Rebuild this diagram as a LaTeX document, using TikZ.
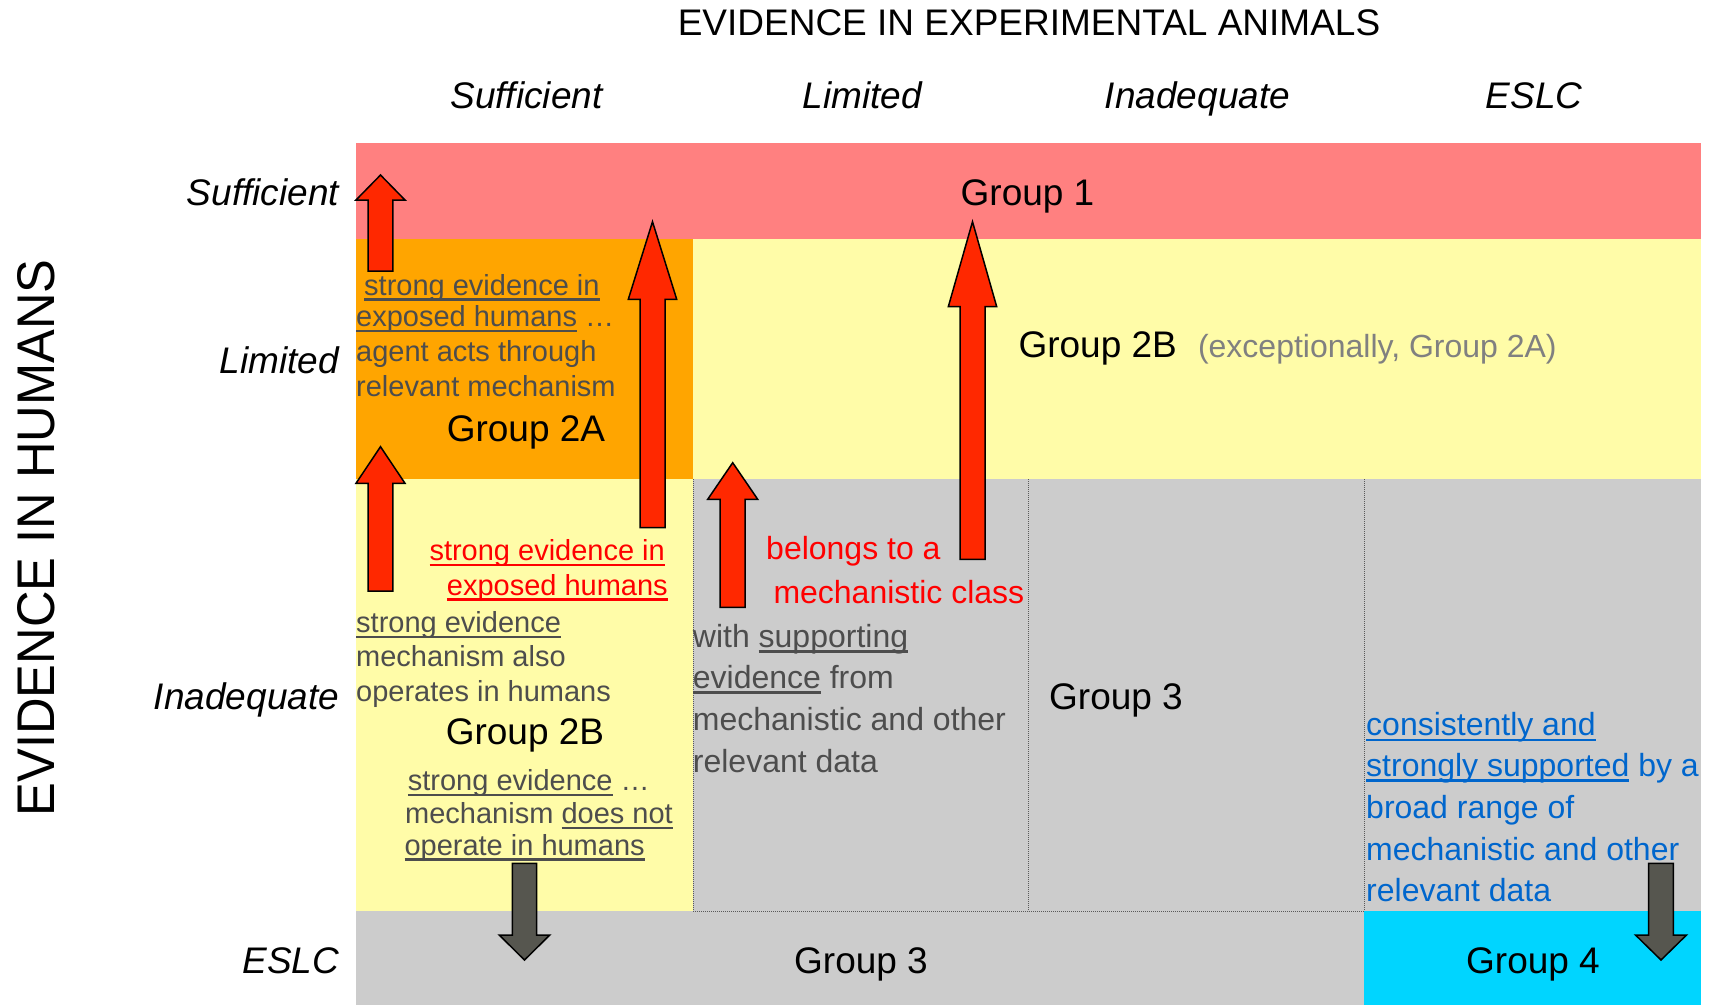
\documentclass[tikz,border=0pt]{standalone}
\usepackage{fontspec}
\setmainfont{Liberation Sans}
\definecolor{salmonc}{HTML}{FF8080}
\definecolor{orangec}{HTML}{FFA500}
\definecolor{yellowc}{HTML}{FFFCA8}
\definecolor{grayc}{HTML}{CCCCCC}
\definecolor{cyanc}{HTML}{00D5FF}
\definecolor{bodygray}{HTML}{4D4D4D}
\definecolor{lightgray}{HTML}{808080}
\definecolor{redtext}{HTML}{FF0000}
\definecolor{bluetext}{HTML}{0066CC}
\definecolor{arrred}{HTML}{FF2800}
\definecolor{arrgray}{HTML}{56564F}
\newcommand{\fs}[2]{\fontsize{#1}{#2}\selectfont}
\newcommand{\ulin}[1]{\setbox0=\hbox{#1}\rlap{\rule[-5.6pt]{\wd0}{2.4pt}}\box0\relax}
\newcommand{\barrow}[7]{%
  \draw[#1] (#2,#3) -- ({#2+#6},#4) -- ({#2+#7},#4) -- ({#2+#7},#5)
    -- ({#2-#7},#5) -- ({#2-#7},#4) -- ({#2-#6},#4) -- cycle;}
\begin{document}
\begin{tikzpicture}[x=1pt,y=-1pt,
  lbl/.style={inner sep=0pt, anchor=base west},
  body/.style={lbl, font=\fs{29}{34}, text=bodygray},
  bodybig/.style={lbl, font=\fs{32}{40}, text=bodygray},
  redsmall/.style={lbl, font=\fs{29}{34}, text=redtext},
  redbig/.style={lbl, font=\fs{32}{40}, text=redtext},
  blue/.style={lbl, font=\fs{32}{40}, text=bluetext},
  grp/.style={inner sep=0pt, anchor=base, font=\fs{37}{44}},
  colhead/.style={inner sep=0pt, anchor=base, font=\fs{37}{44}\itshape},
  rowhead/.style={inner sep=0pt, anchor=base east, font=\fs{37}{44}\itshape},
  redarrow/.style={fill=arrred, draw=black, line width=1.5pt, line join=miter},
  grayarrow/.style={fill=arrgray, draw=black, line width=1.5pt, line join=miter},
  dotline/.style={draw=black!65, line width=0.8pt, dash pattern=on 0.8pt off 1.2pt}]
\useasboundingbox (0,0) rectangle (1711,1005);
% cells
\fill[salmonc] (356,143) rectangle (1701,239);
\fill[orangec] (356,239) rectangle (693,479);
\fill[yellowc] (693,239) rectangle (1701,479);
\fill[yellowc] (356,479) rectangle (693,911);
\fill[grayc] (693,479) rectangle (1701,911);
\fill[grayc] (356,911) rectangle (1364,1005);
\fill[cyanc] (1364,911) rectangle (1701,1005);
% dotted borders
\draw[dotline] (693,479) -- (693,911) -- (1364,911) -- (1364,479);
\draw[dotline] (1028,479) -- (1028,911);
% titles
\node[inner sep=0pt, anchor=base, font=\fs{37}{44}] (title) at (1029,35) {EVIDENCE IN EXPERIMENTAL ANIMALS};
\node[colhead] (c1) at (526.5,108) {Sufficient};
\node[colhead] (c2) at (862.5,108) {Limited};
\node[colhead] (c3) at (1197.5,108) {Inadequate};
\node[colhead] (c4) at (1534,108) {ESLC};
\node[inner sep=0pt, anchor=base, rotate=90, font=\fs{53}{60}] (vt) at (54.3,538) {\scalebox{0.955}[1]{EVIDENCE IN HUMANS}};
\node[rowhead] (r1) at (339.3,205) {Sufficient};
\node[rowhead] (r2) at (339.3,373) {Limited};
\node[rowhead] (r3) at (339.3,709) {Inadequate};
\node[rowhead] (r4) at (339.3,973) {ESLC};
% group labels
\node[grp] (g1) at (1027.5,205) {Group 1};
\node[grp, anchor=base west] (g2bt) at (1018.3,357) {Group 2B};
\node[lbl, font=\fs{32}{40}, text=lightgray] (exc) at (1197.8,357) {(exceptionally, Group 2A)};
\node[grp] (g2a) at (526,441.7) {Group 2A};
\node[grp] (g2b) at (525,744) {Group 2B};
\node[grp] (g3a) at (1116,709) {Group 3};
\node[grp] (g3b) at (861,973) {Group 3};
\node[grp] (g4) at (1533,973) {Group 4};
% orange cell text
\node[body] (o1) at (364,295) {\ulin{strong evidence in}};
\node[body] (o2) at (356,326.5) {\ulin{exposed humans} …};
\node[body] (o3) at (356,361.7) {agent acts through};
\node[body] (o4) at (356,396.7) {relevant mechanism};
% red text col 1
\node[redsmall] (rs1) at (429.3,560.7) {\ulin{strong evidence in}};
\node[redsmall] (rs2) at (446.7,595) {\ulin{exposed humans}};
% yellow col 1 text
\node[body] (y1) at (356,632.7) {\ulin{strong evidence}};
\node[body] (y2) at (356,666.7) {mechanism also};
\node[body] (y3) at (356,701) {operates in humans};
\node[body] (y4) at (407.7,790.7) {\ulin{strong evidence} …};
\node[body] (y5) at (405,823.3) {mechanism \ulin{does not}};
\node[body] (y6) at (404.3,855) {\ulin{operate in humans}};
% gray col 2 text
\node[redbig] (rb1) at (766,559) {belongs to a};
\node[redbig] (rb2) at (773.3,603.3) {mechanistic class};
\node[bodybig] (s1) at (692.7,647) {with \ulin{supporting}};
\node[bodybig] (s2) at (692.7,688) {\ulin{evidence} from};
\node[bodybig] (s3) at (692.7,730) {mechanistic and other};
\node[bodybig] (s4) at (692.7,772) {relevant data};
% blue text
\node[blue] (b1) at (1366,735.7) {\ulin{consistently and}};
\node[blue] (b2) at (1366,776) {\ulin{strongly supported} by a};
\node[blue] (b3) at (1366,818.3) {broad range of};
\node[blue] (b4) at (1366,860.7) {mechanistic and other};
\node[blue] (b5) at (1366,901.7) {relevant data};
% arrows
\barrow{redarrow}{380.5}{175}{200}{271}{24.5}{12.3}
\barrow{redarrow}{652.5}{221.7}{299.3}{527.7}{24.2}{12.5}
\barrow{redarrow}{380.5}{446.7}{483.3}{591}{24.5}{12.3}
\barrow{redarrow}{732.7}{462.7}{499.3}{607.3}{25}{12.5}
\barrow{redarrow}{972.5}{221.7}{306.7}{559.3}{24.2}{12.5}
\barrow{grayarrow}{524.5}{960}{935}{863.3}{25.3}{12.2}
\barrow{grayarrow}{1661}{960}{935}{863.3}{25.5}{12.3}
\end{tikzpicture}
\end{document}
